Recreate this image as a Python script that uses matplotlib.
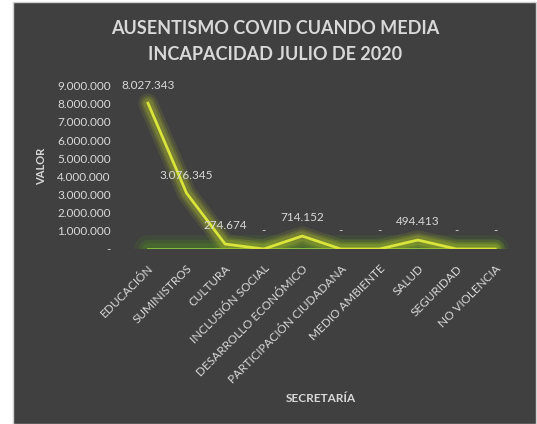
import matplotlib
matplotlib.use("Agg")
import matplotlib.pyplot as plt
from matplotlib.patches import Rectangle
from matplotlib.ticker import FuncFormatter

plt.rcParams['font.family'] = ['Lato', 'DejaVu Sans']

# data
secretarias = ["EDUCACIÓN", "SUMINISTROS", "CULTURA", "INCLUSIÓN SOCIAL",
               "DESARROLLO ECONÓMICO", "PARTICIPACIÓN CIUDADANA",
               "MEDIO AMBIENTE", "SALUD", "SEGURIDAD", "NO VIOLENCIA"]
valor = [8027343, 3076345, 274674, 0, 714152, 0, 0, 494413, 0, 0]
casos = [0, 0, 0, 0, 0, 0, 0, 0, 0, 0]

txt = '#d9d9d9'
bg = '#404040'


def fmt(v, pos=None):
    if v == 0:
        return '-'
    return f"{int(round(v)):,}".replace(',', '.')


fig = plt.figure(figsize=(5.37, 4.24), dpi=100, facecolor='white')
fig.patches.append(Rectangle((13 / 537, 0), 1 - 14 / 537, 1 - 2 / 424,
                             transform=fig.transFigure, facecolor=bg,
                             edgecolor='#d0d0d0', linewidth=1, zorder=-10))

ax = fig.add_axes([0.2397, 0.4127, 0.718, 0.3856])
ax.set_facecolor('none')
x = list(range(len(secretarias)))

# green series with glow
for w, a in [(20, 0.15), (14, 0.22), (9, 0.3)]:
    ax.plot(x, casos, color='#4f8a23', lw=w, alpha=a, solid_capstyle='round', zorder=2)
ax.plot(x, casos, color='#8cc63f', lw=2, zorder=3)

# yellow series with glow
for w, a in [(14, 0.12), (10, 0.18), (7, 0.25)]:
    ax.plot(x, valor, color='#b5c42a', lw=w, alpha=a, solid_capstyle='round', zorder=4)
ax.plot(x, valor, color='#d9e53a', lw=2, zorder=5)

for xi, v in zip(x, valor):
    ax.annotate(fmt(v), (xi, v), xytext=(0, 13), textcoords='offset points',
                ha='center', va='center', color=txt, fontsize=8.5, zorder=6)

ax.set_xlim(-0.5, 9.5)
ax.set_ylim(0, 9000000)
ax.set_yticks(range(0, 9000001, 1000000))
ax.yaxis.set_major_formatter(FuncFormatter(fmt))
ax.set_xticks(x)
ax.set_xticklabels(secretarias, rotation=45, ha='right', rotation_mode='anchor')
ax.tick_params(axis='y', length=0, pad=13, labelcolor=txt, labelsize=8.5)
ax.tick_params(axis='x', length=0, pad=10, labelcolor=txt, labelsize=8.5)
for s in ax.spines.values():
    s.set_visible(False)

fig.text(275 / 537, 1 - 28 / 424, "AUSENTISMO COVID CUANDO MEDIA", ha='center', va='center',
         color=txt, fontsize=13, fontweight='bold')
fig.text(275 / 537, 1 - 55 / 424, "INCAPACIDAD JULIO DE 2020", ha='center', va='center',
         color=txt, fontsize=13, fontweight='bold')
fig.text(42 / 537, 1 - 166 / 424, "VALOR", rotation=90, ha='center', va='center',
         color=txt, fontsize=8, fontweight='bold')
fig.text(321 / 537, 1 - 399 / 424, "SECRETARÍA", ha='center', va='center',
         color=txt, fontsize=8.5, fontweight='bold')

fig.savefig('out.png', dpi=100, facecolor=fig.get_facecolor())
